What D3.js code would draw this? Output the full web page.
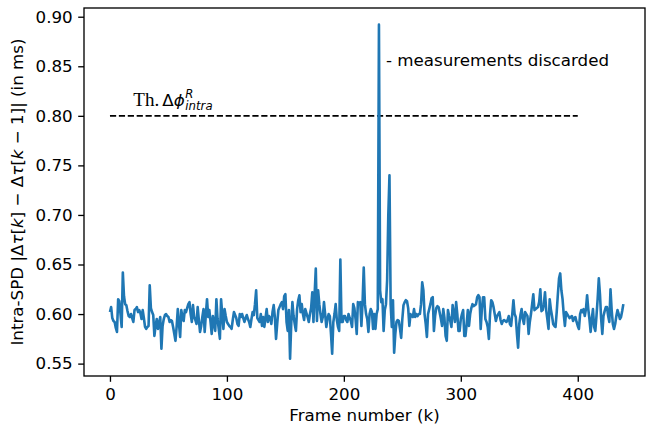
<!DOCTYPE html>
<html>
<head>
<meta charset="utf-8">
<script src="https://cdn.jsdelivr.net/npm/d3@7/dist/d3.min.js"></script>
<style>
  body { margin: 0; background: #fff; }
  svg { display: block; font-family: "DejaVu Sans", sans-serif; }
  .axis text { font-size: 16.7px; fill: #000; font-family: "DejaVu Sans", sans-serif; }
  .axis line { stroke: #000; stroke-width: 1.33; }
  .axis .domain { display: none; }
</style>
</head>
<body>
<svg id="chart" width="646" height="435"></svg>
<script>
// intra-SPD per frame, frames 0..439
const spdValues = [
  0.602, 0.607, 0.596, 0.593, 0.592, 0.586, 0.582, 0.615, 0.613, 0.600,
  0.587, 0.642, 0.618, 0.610, 0.609, 0.603, 0.598, 0.597, 0.600, 0.596,
  0.592, 0.604, 0.605, 0.607, 0.602, 0.604, 0.601, 0.595, 0.604, 0.596,
  0.587, 0.585, 0.587, 0.588, 0.629, 0.606, 0.602, 0.599, 0.578, 0.588,
  0.595, 0.585, 0.591, 0.597, 0.565, 0.588, 0.595, 0.599, 0.600, 0.598,
  0.597, 0.592, 0.594, 0.593, 0.587, 0.580, 0.573, 0.587, 0.605, 0.590,
  0.577, 0.604, 0.597, 0.593, 0.604, 0.602, 0.606, 0.610, 0.612, 0.600,
  0.592, 0.609, 0.597, 0.594, 0.590, 0.607, 0.594, 0.582, 0.588, 0.597,
  0.605, 0.582, 0.600, 0.615, 0.597, 0.604, 0.592, 0.580, 0.598, 0.590,
  0.583, 0.615, 0.595, 0.585, 0.575, 0.615, 0.600, 0.585, 0.605, 0.598,
  0.592, 0.590, 0.588, 0.587, 0.585, 0.594, 0.602, 0.599, 0.596, 0.590,
  0.588, 0.600, 0.597, 0.600, 0.596, 0.592, 0.596, 0.599, 0.595, 0.592,
  0.587, 0.595, 0.602, 0.599, 0.610, 0.624, 0.596, 0.594, 0.592, 0.600,
  0.588, 0.597, 0.587, 0.596, 0.605, 0.592, 0.598, 0.596, 0.590, 0.602,
  0.609, 0.597, 0.575, 0.590, 0.604, 0.607, 0.610, 0.612, 0.605, 0.618,
  0.620, 0.592, 0.583, 0.604, 0.555, 0.590, 0.612, 0.598, 0.590, 0.583,
  0.605, 0.614, 0.619, 0.602, 0.610, 0.600, 0.594, 0.605, 0.601, 0.597,
  0.592, 0.600, 0.606, 0.622, 0.592, 0.620, 0.646, 0.593, 0.624, 0.610,
  0.600, 0.592, 0.597, 0.612, 0.600, 0.587, 0.595, 0.600, 0.598, 0.580,
  0.560, 0.592, 0.600, 0.610, 0.594, 0.587, 0.583, 0.655, 0.592, 0.592,
  0.598, 0.598, 0.594, 0.592, 0.600, 0.596, 0.593, 0.587, 0.610, 0.606,
  0.595, 0.580, 0.612, 0.611, 0.612, 0.588, 0.612, 0.647, 0.610, 0.600,
  0.595, 0.582, 0.600, 0.605, 0.602, 0.585, 0.600, 0.585, 0.600, 0.605,
  0.892, 0.624, 0.612, 0.615, 0.583, 0.604, 0.610, 0.634, 0.700, 0.740,
  0.610, 0.587, 0.614, 0.561, 0.580, 0.592, 0.594, 0.593, 0.585, 0.576,
  0.595, 0.609, 0.612, 0.614, 0.613, 0.606, 0.588, 0.600, 0.598, 0.597,
  0.605, 0.597, 0.600, 0.598, 0.600, 0.600, 0.610, 0.632, 0.624, 0.600,
  0.590, 0.577, 0.600, 0.605, 0.610, 0.616, 0.617, 0.583, 0.598, 0.606,
  0.608, 0.607, 0.601, 0.595, 0.588, 0.605, 0.596, 0.578, 0.573, 0.604,
  0.598, 0.593, 0.587, 0.609, 0.600, 0.592, 0.612, 0.600, 0.583, 0.583,
  0.595, 0.600, 0.604, 0.578, 0.578, 0.590, 0.604, 0.588, 0.600, 0.606,
  0.610, 0.608, 0.609, 0.610, 0.617, 0.619, 0.617, 0.585, 0.605, 0.617,
  0.617, 0.595, 0.592, 0.587, 0.575, 0.600, 0.614, 0.612, 0.607, 0.600,
  0.593, 0.598, 0.600, 0.602, 0.594, 0.590, 0.593, 0.594, 0.593, 0.592,
  0.594, 0.598, 0.590, 0.588, 0.600, 0.614, 0.600, 0.597, 0.580, 0.566,
  0.590, 0.599, 0.605, 0.595, 0.590, 0.602, 0.600, 0.598, 0.580, 0.592,
  0.600, 0.610, 0.620, 0.604, 0.605, 0.606, 0.607, 0.612, 0.625, 0.603,
  0.604, 0.610, 0.622, 0.604, 0.595, 0.585, 0.615, 0.605, 0.598, 0.590,
  0.588, 0.587, 0.602, 0.620, 0.636, 0.641, 0.624, 0.615, 0.600, 0.588,
  0.602, 0.600, 0.598, 0.596, 0.597, 0.598, 0.593, 0.596, 0.597, 0.592,
  0.588, 0.585, 0.600, 0.604, 0.602, 0.605, 0.598, 0.605, 0.619, 0.605,
  0.595, 0.582, 0.595, 0.605, 0.587, 0.583, 0.598, 0.615, 0.636, 0.620,
  0.595, 0.580, 0.598, 0.603, 0.607, 0.607, 0.598, 0.592, 0.625, 0.604,
  0.590, 0.585, 0.590, 0.598, 0.604, 0.600, 0.595, 0.597, 0.603, 0.610
];

const xTicks = [0, 100, 200, 300, 400];
const yTicks = [0.55, 0.60, 0.65, 0.70, 0.75, 0.80, 0.85, 0.90];

const threshold = 0.80;
const thresholdRange = [0, 400];
const thLabelPos = [20, 0.81];
const discardLabelPos = [236, 0.85];

const svg = d3.select("#chart");
const plotLeft = 84, plotRight = 645, plotTop = 8, plotBottom = 376;

svg.append("rect").attr("width", 646).attr("height", 435).attr("fill", "#fff");

const x = d3.scaleLinear().domain([-22.2, 457.5]).range([plotLeft, plotRight]);
const y = d3.scaleLinear().domain([0.5375, 0.9088]).range([plotBottom, plotTop]);

svg.append("g")
  .attr("class", "axis")
  .attr("transform", `translate(0,${plotBottom})`)
  .call(d3.axisBottom(x).tickValues(xTicks).tickSize(5.8).tickSizeOuter(0).tickPadding(5.5))
  .selectAll("text").attr("dy", "0.76em");

svg.append("g")
  .attr("class", "axis")
  .attr("transform", `translate(${plotLeft},0)`)
  .call(d3.axisLeft(y).tickValues(yTicks).tickFormat(d3.format(".2f")).tickSize(5.8).tickSizeOuter(0).tickPadding(5.5));

// threshold line
svg.append("line")
  .attr("x1", x(thresholdRange[0]))
  .attr("x2", x(thresholdRange[1]))
  .attr("y1", y(threshold))
  .attr("y2", y(threshold))
  .attr("stroke", "#000")
  .attr("stroke-width", 1.67)
  .attr("stroke-dasharray", "6.2 2.7");

// data line
const line = d3.line()
  .x((d, i) => x(i))
  .y(d => y(d));

svg.append("path")
  .datum(spdValues)
  .attr("d", line)
  .attr("fill", "none")
  .attr("stroke", "#1f77b4")
  .attr("stroke-width", 2.6)
  .attr("stroke-linejoin", "round");

// annotations
const th = svg.append("text")
  .attr("x", x(thLabelPos[0]))
  .attr("y", y(thLabelPos[1]))
  .attr("font-size", 16.7);
th.append("tspan").attr("font-family", "Liberation Serif, serif").attr("font-size", 19).text("Th.");
th.append("tspan").attr("dx", 3).text("Δ");
th.append("tspan").attr("font-style", "italic").text("ϕ");
th.append("tspan").attr("font-style", "italic").attr("font-size", 11.7).attr("dx", 0.5).attr("dy", -8).text("R");

// subscript placed under the superscript
svg.append("text")
  .attr("x", x(thLabelPos[0]) + 52)
  .attr("y", y(thLabelPos[1]) + 4.5)
  .attr("font-size", 11.7)
  .attr("font-style", "italic")
  .text("intra");

svg.append("text")
  .attr("x", x(discardLabelPos[0]))
  .attr("y", y(discardLabelPos[1]))
  .attr("font-size", 16.7)
  .text("- measurements discarded");

// spines
svg.append("rect")
  .attr("x", plotLeft).attr("y", plotTop)
  .attr("width", plotRight - plotLeft).attr("height", plotBottom - plotTop)
  .attr("fill", "none").attr("stroke", "#000").attr("stroke-width", 1.33);

// axis labels
svg.append("text")
  .attr("x", (plotLeft + plotRight) / 2)
  .attr("y", 421)
  .attr("text-anchor", "middle")
  .attr("font-size", 16.7)
  .text("Frame number (k)");

const yl = svg.append("text")
  .attr("transform", `translate(23,${(plotTop + plotBottom) / 2}) rotate(-90)`)
  .attr("text-anchor", "middle")
  .attr("font-size", 16.7);
yl.append("tspan").text("Intra-SPD |Δ");
yl.append("tspan").attr("font-style", "italic").text("τ");
yl.append("tspan").text("[");
yl.append("tspan").attr("font-style", "italic").text("k");
yl.append("tspan").text("] − Δ");
yl.append("tspan").attr("font-style", "italic").text("τ");
yl.append("tspan").text("[");
yl.append("tspan").attr("font-style", "italic").text("k");
yl.append("tspan").text(" − 1]| (in ms)");
</script>
</body>
</html>
